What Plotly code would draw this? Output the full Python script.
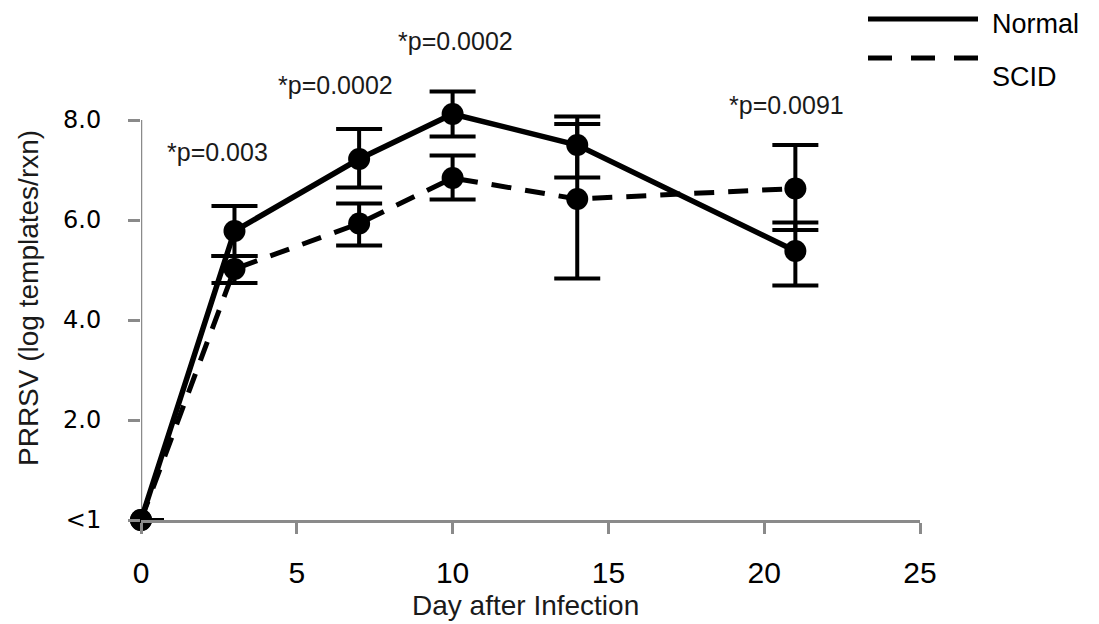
import plotly.graph_objects as go

# Sampling days and group means (log templates/rxn)
days = [0, 3, 7, 10, 14, 21]
normal_mean = [0, 5.78, 7.22, 8.12, 7.50, 5.38]
normal_err_plus = [0, 0.50, 0.60, 0.45, 0.57, 0.57]
normal_err_minus = [0, 0.50, 0.57, 0.45, 0.65, 0.69]
scid_mean = [0, 5.02, 5.93, 6.84, 6.42, 6.63]
scid_err_plus = [0, 0.26, 0.40, 0.45, 1.50, 0.87]
scid_err_minus = [0, 0.28, 0.44, 0.43, 1.59, 0.83]

y_tickvals = [0, 2, 4, 6, 8]
y_ticktext = ["<1", "2.0", "4.0", "6.0", "8.0"]
x_tickvals = [0, 5, 10, 15, 20, 25]

# p-value labels: (day, text)
p_days = [2.44, 6.24, 10.09, 20.73]
p_texts = ["*p=0.003", "*p=0.0002", "*p=0.0002", "*p=0.0091"]

AXIS_GREY = "#8a8a8a"
FONT = "Liberation Sans, Arial, sans-serif"

# plot-area geometry in pixels
W, H = 1099, 624
L, R, T, B = 141, 179, 85, 104
PW, PH = W - L - R, H - T - B


def px_x(px):
    return (px - L) / PW


def px_y(py):
    return (H - B - py) / PH


p_label_rows = [151.7, 85, 40.7, 105]

fig = go.Figure()

fig.add_trace(go.Scatter(
    x=days, y=scid_mean, mode="lines+markers", name="SCID",
    line=dict(color="black", width=5, dash="20px,14px"),
    marker=dict(color="black", size=22),
    error_y=dict(type="data", symmetric=False, array=scid_err_plus,
                 arrayminus=scid_err_minus, color="black", thickness=4, width=23),
    cliponaxis=False, showlegend=False,
))
fig.add_trace(go.Scatter(
    x=days, y=normal_mean, mode="lines+markers", name="Normal",
    line=dict(color="black", width=5.5),
    marker=dict(color="black", size=22),
    error_y=dict(type="data", symmetric=False, array=normal_err_plus,
                 arrayminus=normal_err_minus, color="black", thickness=4, width=23),
    cliponaxis=False, showlegend=False,
))

# vertical axis line stops at the top tick
fig.add_shape(type="line", xref="x", yref="y", x0=0, x1=0, y0=0, y1=8,
              line=dict(color=AXIS_GREY, width=2.5), layer="below")

for d, row, t in zip(p_days, p_label_rows, p_texts):
    fig.add_annotation(x=d, y=px_y(row), xref="x", yref="paper", text=t, showarrow=False,
                       font=dict(family=FONT, size=25, color="#1a1a1a"),
                       xanchor="center", yanchor="middle")

# axis titles
fig.add_annotation(xref="paper", yref="paper", x=px_x(525), y=px_y(605),
                   text="Day after Infection", showarrow=False,
                   xanchor="center", yanchor="middle",
                   font=dict(family=FONT, size=28, color="#1a1a1a"))
fig.add_annotation(xref="paper", yref="paper", x=px_x(28), y=px_y(298),
                   text="PRRSV (log templates/rxn)", showarrow=False, textangle=-90,
                   xanchor="center", yanchor="middle",
                   font=dict(family=FONT, size=28, color="#1a1a1a"))

# legend drawn by hand
fig.add_shape(type="line", xref="paper", yref="paper", x0=px_x(868), x1=px_x(978),
              y0=px_y(19), y1=px_y(19), line=dict(color="black", width=5))
fig.add_shape(type="line", xref="paper", yref="paper", x0=px_x(868), x1=px_x(978),
              y0=px_y(58), y1=px_y(58), line=dict(color="black", width=5, dash="24px,19px"))
fig.add_annotation(xref="paper", yref="paper", x=px_x(990), y=px_y(24),
                   text="Normal", showarrow=False, xanchor="left", yanchor="middle",
                   font=dict(family=FONT, size=27, color="black"))
fig.add_annotation(xref="paper", yref="paper", x=px_x(990), y=px_y(77),
                   text="SCID", showarrow=False, xanchor="left", yanchor="middle",
                   font=dict(family=FONT, size=27, color="black"))

fig.update_layout(
    width=W, height=H, autosize=False,
    margin=dict(l=L, r=R, t=T, b=B),
    paper_bgcolor="white", plot_bgcolor="white",
    showlegend=False,
    xaxis=dict(
        range=[0, 25], tickvals=x_tickvals, showgrid=False, zeroline=False,
        showline=True, linecolor=AXIS_GREY, linewidth=2.5,
        ticks="outside", ticklen=11, tickwidth=2.5, tickcolor=AXIS_GREY,
        ticklabelstandoff=13, automargin=False,
        tickfont=dict(family=FONT, size=30, color="black"),
    ),
    yaxis=dict(
        range=[0, 8.7], tickvals=y_tickvals, ticktext=y_ticktext,
        showgrid=False, zeroline=False, showline=False,
        ticks="outside", ticklen=12, tickwidth=2.5, tickcolor=AXIS_GREY,
        ticklabelstandoff=22, automargin=False,
        tickfont=dict(family="DejaVu Sans, sans-serif", size=24, color="black"),
    ),
)

fig.write_html("out.html")
